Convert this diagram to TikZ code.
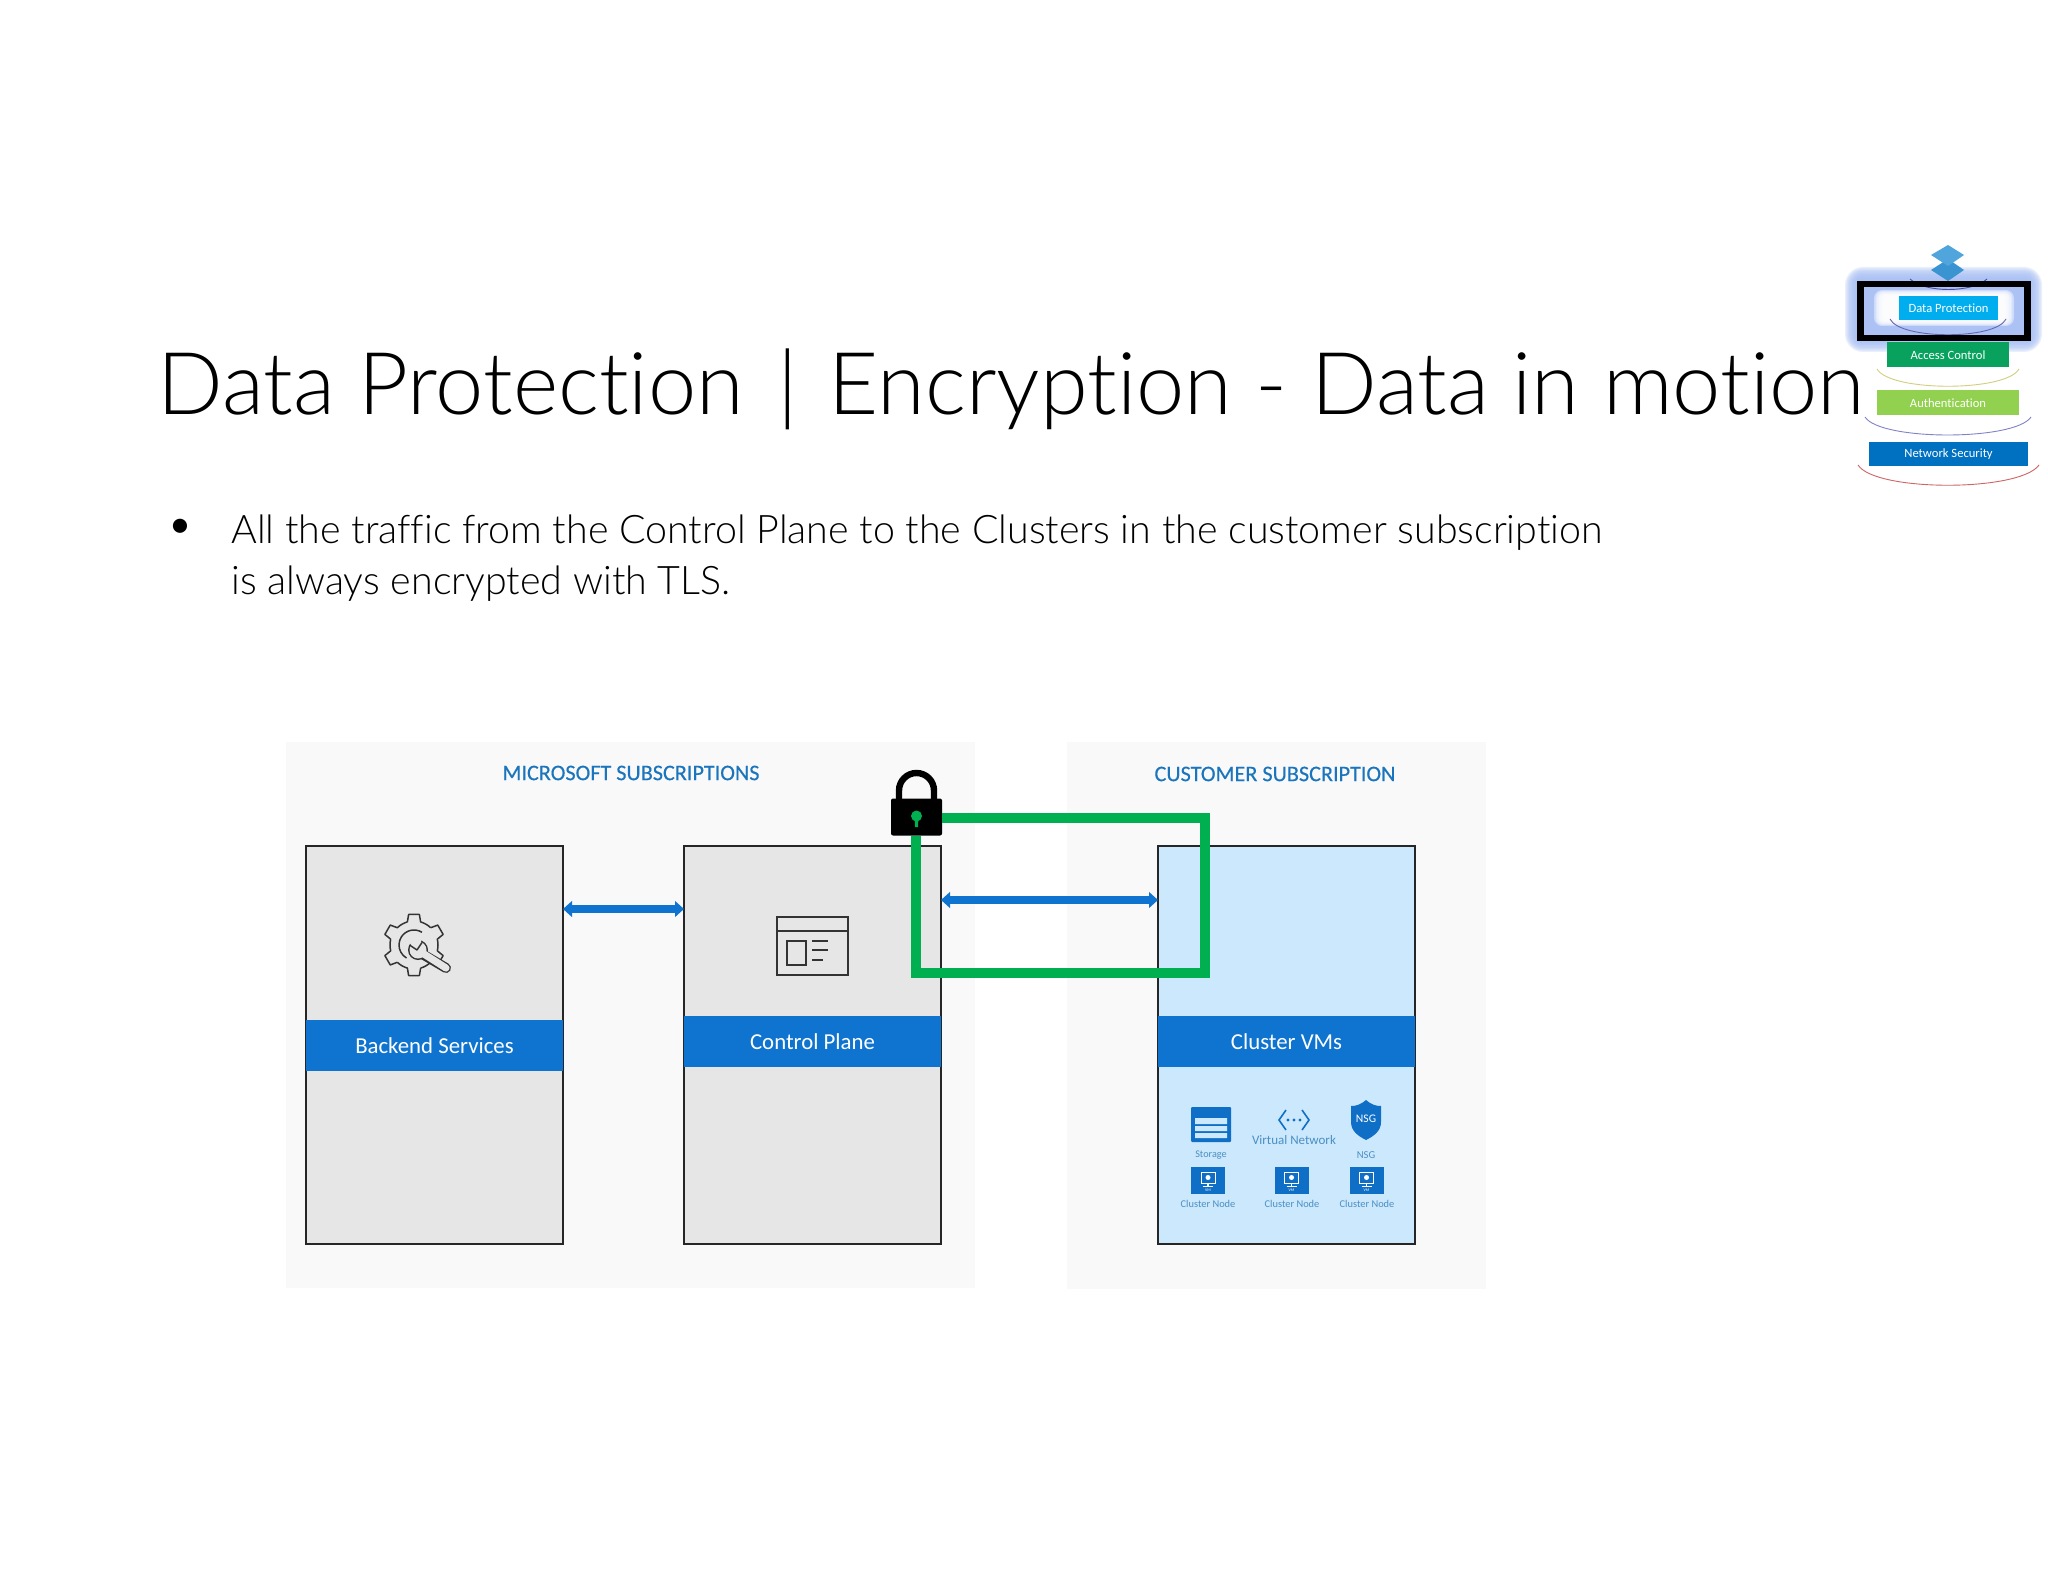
\documentclass[tikz,border=0pt]{standalone}
\usepackage{fontspec}
\setmainfont{Carlito}[Ligatures=NoCommon]
\newfontfamily\lightf{Lato Light}[Ligatures=NoCommon]
\usetikzlibrary{arrows.meta,calc}
\definecolor{panelc}{HTML}{F9F9FA}
\definecolor{grayc}{HTML}{E6E6E7}
\definecolor{skyc}{HTML}{CCE8FC}
\definecolor{bandc}{HTML}{0F74CF}
\definecolor{headc}{HTML}{1B75BC}
\definecolor{greenc}{HTML}{00B050}
\definecolor{iconc}{HTML}{0F6FC6}
\definecolor{smallc}{HTML}{4A8FC4}
\definecolor{glowc}{HTML}{A9C0F5}
\definecolor{dpc}{HTML}{00ADEF}
\definecolor{acc}{HTML}{08A25E}
\definecolor{authc}{HTML}{92D050}
\definecolor{nsc}{HTML}{0070C0}
\definecolor{stacka}{HTML}{4FA5DC}
\definecolor{stackb}{HTML}{3A94D2}
\tikzset{x=0.5pt,y=-0.5pt,
 bigbox/.style={draw=black!85,line width=0.65pt,outer sep=0pt,anchor=north west,minimum width=128.5pt,minimum height=199pt,inner sep=0},
 band/.style={fill=bandc,text=white,minimum width=128.5pt,minimum height=25.5pt,inner sep=0,font=\fontsize{11.4}{14}\selectfont},
 head/.style={text=headc,font=\fontsize{11.1}{13}\selectfont\addfontfeature{FakeBold=0.4},inner sep=0},
 blink/.style={draw=bandc,line width=3.6pt,{Triangle[width=7.8pt,length=4.5pt]}-{Triangle[width=7.8pt,length=4.5pt]}},
 greenl/.style={draw=greenc,line width=4.7pt,line join=miter},
 icon/.style={draw=black!80,line width=0.75pt},
 tiny/.style={text=smallc,inner sep=0,font=\fontsize{#1}{6}\selectfont},
 tiny/.default=5.2,
 tier/.style={text=white,inner sep=0,font=\fontsize{6.3}{7}\selectfont,anchor=center},
 vm/.style={fill=iconc,minimum width=17pt,minimum height=13.5pt,inner sep=0},
 arcl/.style={line width=0.45pt},
}
\begin{document}
\begin{tikzpicture}
\useasboundingbox (0,0) rectangle (2048,1582);
\fill[white] (0,0) rectangle (2048,1582);
% panels
\fill[panelc] (286,742) rectangle (975,1288);
\fill[panelc] (1067,742) rectangle (1486,1289);
\node[head] (mstitle) at (631,773) {MICROSOFT SUBSCRIPTIONS};
\node[head] (cstitle) at (1275,774) {CUSTOMER SUBSCRIPTION};
% boxes
\node[bigbox,fill=grayc] (backend) at (306,846) {};
\node[bigbox,fill=grayc] (control) at (684,846) {};
\node[bigbox,fill=skyc] (cluster) at (1158,846) {};
\node[band] (backendband) at (434.5,1045.5) {Backend Services};
\node[band] (controlband) at (812.5,1041.5) {Control Plane};
\node[band] (clusterband) at (1286.5,1041.5) {Cluster VMs};
% gear icon
\begin{scope}[shift={(414,945)}]
 \foreach \a in {0,60,...,300}{
  \pgfmathsetmacro\A{\a+90}
  \pgfmathsetmacro\Ae{\A+16}
  \pgfmathsetmacro\Af{\A+44}
  \draw[icon,line join=round] (\A-16:24) -- (\A-10:31) -- (\A+10:31) -- (\A+16:24) arc[start angle=\Ae,end angle=\Af,radius=24];
 }
 \draw[icon] (-58:15) arc[start angle=-58,end angle=-240,radius=15];
\end{scope}
\draw[draw=black!80,line width=5pt,line cap=round] (424,955) -- (446,968);
\fill[black!80] (418,950) circle[radius=10];
\fill[grayc] (418,950) circle[radius=8.5];
\draw[draw=grayc,line width=3.6pt,line cap=round] (420,951.5) -- (446,968);
\fill[grayc] (414,950) -- (408,940) -- (420,936) -- (422,946) -- cycle;
\draw[icon,line join=round] (409.5,945) -- (417,950) -- (422,942.5);
% window icon
\node[icon,outer sep=0pt,anchor=north west,minimum width=35.5pt,minimum height=29pt,inner sep=0] (win) at (777,917) {};
\draw[icon] (win.west |- 0,931) -- (win.east |- 0,931);
\draw[icon] (787,941) rectangle (806,965);
\draw[icon] (812,941) -- (828,941) (812,950) -- (828,950) (812,960) -- (823,960);
% connectors
\draw[blink] (backend.east |- 0,909) -- (control.west |- 0,909);
\draw[blink] (control.east |- 0,900) -- (cluster.west |- 0,900);
% lock
\coordinate (gtr) at (1205,818);
\coordinate (gbr) at (1205,973);
\coordinate (gbl) at (916,973);
\node[fill=black,rounded corners=1pt,outer sep=0pt,minimum width=25.5pt,minimum height=18.5pt,inner sep=0] (lock) at (916.5,817) {};
\draw[greenl] (lock.east |- gtr) -- (gtr) -- (gbr) -- (gbl) -- (gbl |- lock.south);
\draw[black,line width=3.2pt] ($(lock.north west)+(8,1)$) -- ++(0,-9) arc[start angle=180,end angle=360,radius=17.5] -- ++(0,9);
\fill[greenc] (916.5,816) circle[radius=5.5];
\fill[greenc] (914.5,816) -- (918.5,816) -- (918,827) -- (915,827) -- cycle;
% cluster icons
\fill[iconc,rounded corners=0.5pt] (1191,1107) rectangle (1231,1142);
\fill[skyc] (1195,1118) rectangle (1227,1124) (1195,1126) rectangle (1227,1131) (1195,1133) rectangle (1227,1138);
\node[tiny=5.1] (storage) at (1211,1155) {Storage};
\draw[iconc,line width=0.8pt] (1286,1110) -- (1279,1120) -- (1286,1130) (1302,1110) -- (1309,1120) -- (1302,1130);
\fill[iconc] (1288,1120) circle[radius=1.7] (1294,1120) circle[radius=1.7] (1300,1120) circle[radius=1.7];
\node[tiny=6.5] (vnet) at (1294,1140) {Virtual Network};
\fill[iconc] (1366,1100) .. controls (1360,1105) and (1356,1106) .. (1351,1106) -- (1351,1122) .. controls (1351,1131) and (1358,1136) .. (1366,1140) .. controls (1374,1136) and (1381,1131) .. (1381,1122) -- (1381,1106) .. controls (1376,1106) and (1372,1105) .. (1366,1100) -- cycle;
\node[text=white,inner sep=0,font=\fontsize{5.8}{6}\selectfont] (nsgicon) at (1366,1119) {NSG};
\node[tiny=5.3] (nsg) at (1366,1155) {NSG};
\foreach \n/\x/\lx in {a/1208/1208,b/1291.5/1292,c/1366.5/1367}{
 \node[vm] (vm\n) at (\x,1180.5) {};
 \draw[white,line width=0.5pt] (\x-7,1172) rectangle (\x+7,1183);
 \fill[white] (\x,1177.5) circle[radius=2.5];
 \draw[white,line width=0.7pt] (\x,1183) -- (\x,1186) (\x-5,1186.5) -- (\x+5,1186.5);
 \node[text=white,inner sep=0,font=\fontsize{2}{3}\selectfont] at (\x,1190.5) {VM};
 \node[tiny] (cn\n) at (\lx,1204) {Cluster Node};
}
% stack glow
\foreach \i in {0,...,9}{
 \fill[glowc,opacity=0.25,rounded corners={(18-1.6*\i)*0.5pt}] (1845+\i*1.4,267+\i*1.4) rectangle (2042-\i*1.4,352-\i*1.4);
}
\foreach \i in {0,...,6}{
 \fill[white,opacity=0.4,rounded corners={(8-\i)*0.5pt}] (1874+\i*1.6,290+\i*1) rectangle (2014-\i*1.6,326-\i*1);
}
% stack icon
\fill[stackb] (1948,259) -- (1964,270) -- (1948,281) -- (1931,270) -- cycle;
\fill[stacka] (1948,245) -- (1964,255) -- (1948,266) -- (1931,255) -- cycle;
% stack arcs
\draw[arcl,draw=blue!50!black!70] (1910,279) .. controls (1925,293) and (1972,293) .. (1987,279);
\node[tier,fill=dpc,minimum width=49.5pt,minimum height=12pt,text depth=0pt] (dp) at (1948.5,308) {Data Protection};
\draw[arcl,draw=blue!50!black!60] (1890,319) .. controls (1900,340) and (1996,340) .. (2006,319);
\node[tier,fill=acc,minimum width=61pt,minimum height=12.5pt] (ac) at (1948,355) {Access Control};
\draw[arcl,draw=olive!40] (1877,369) .. controls (1890,392) and (2006,392) .. (2019,369);
\node[tier,fill=authc,minimum width=71pt,minimum height=12.5pt] (auth) at (1948,403) {Authentication};
\draw[arcl,draw=blue!40!gray!70] (1865,417) .. controls (1880,441) and (2015,441) .. (2031,417);
\node[tier,fill=nsc,minimum width=79.5pt,minimum height=12pt] (ns) at (1948.5,454.5) {Network Security};
\draw[arcl,draw=red!50!gray!80] (1858,465) .. controls (1875,492) and (2020,492) .. (2039,465);
\node[draw=black,line width=3.2pt,minimum width=83.5pt,minimum height=27pt,inner sep=0] (frame) at (1944,311) {};
% title and bullets
\node[anchor=base west,inner sep=0,font=\lightf\fontsize{43.3}{50}\selectfont] (title) at (157,415) {Data Protection\hspace{5.2pt} | \hspace{3.3pt}Encryption - Data in motion};
\node[anchor=base,inner sep=0,font=\fontsize{20}{24}\selectfont] (bullet) at (180,538) {•};
\node[anchor=base west,inner sep=0,font=\lightf\fontsize{19.68}{24}\selectfont] (l1) at (231,544) {All the traffic from the Control Plane to the Clusters in the customer subscription};
\node[anchor=base west,inner sep=0,font=\lightf\fontsize{19.68}{24}\selectfont] (l2) at (231,595) {is always encrypted with TLS.};
\end{tikzpicture}
\end{document}
